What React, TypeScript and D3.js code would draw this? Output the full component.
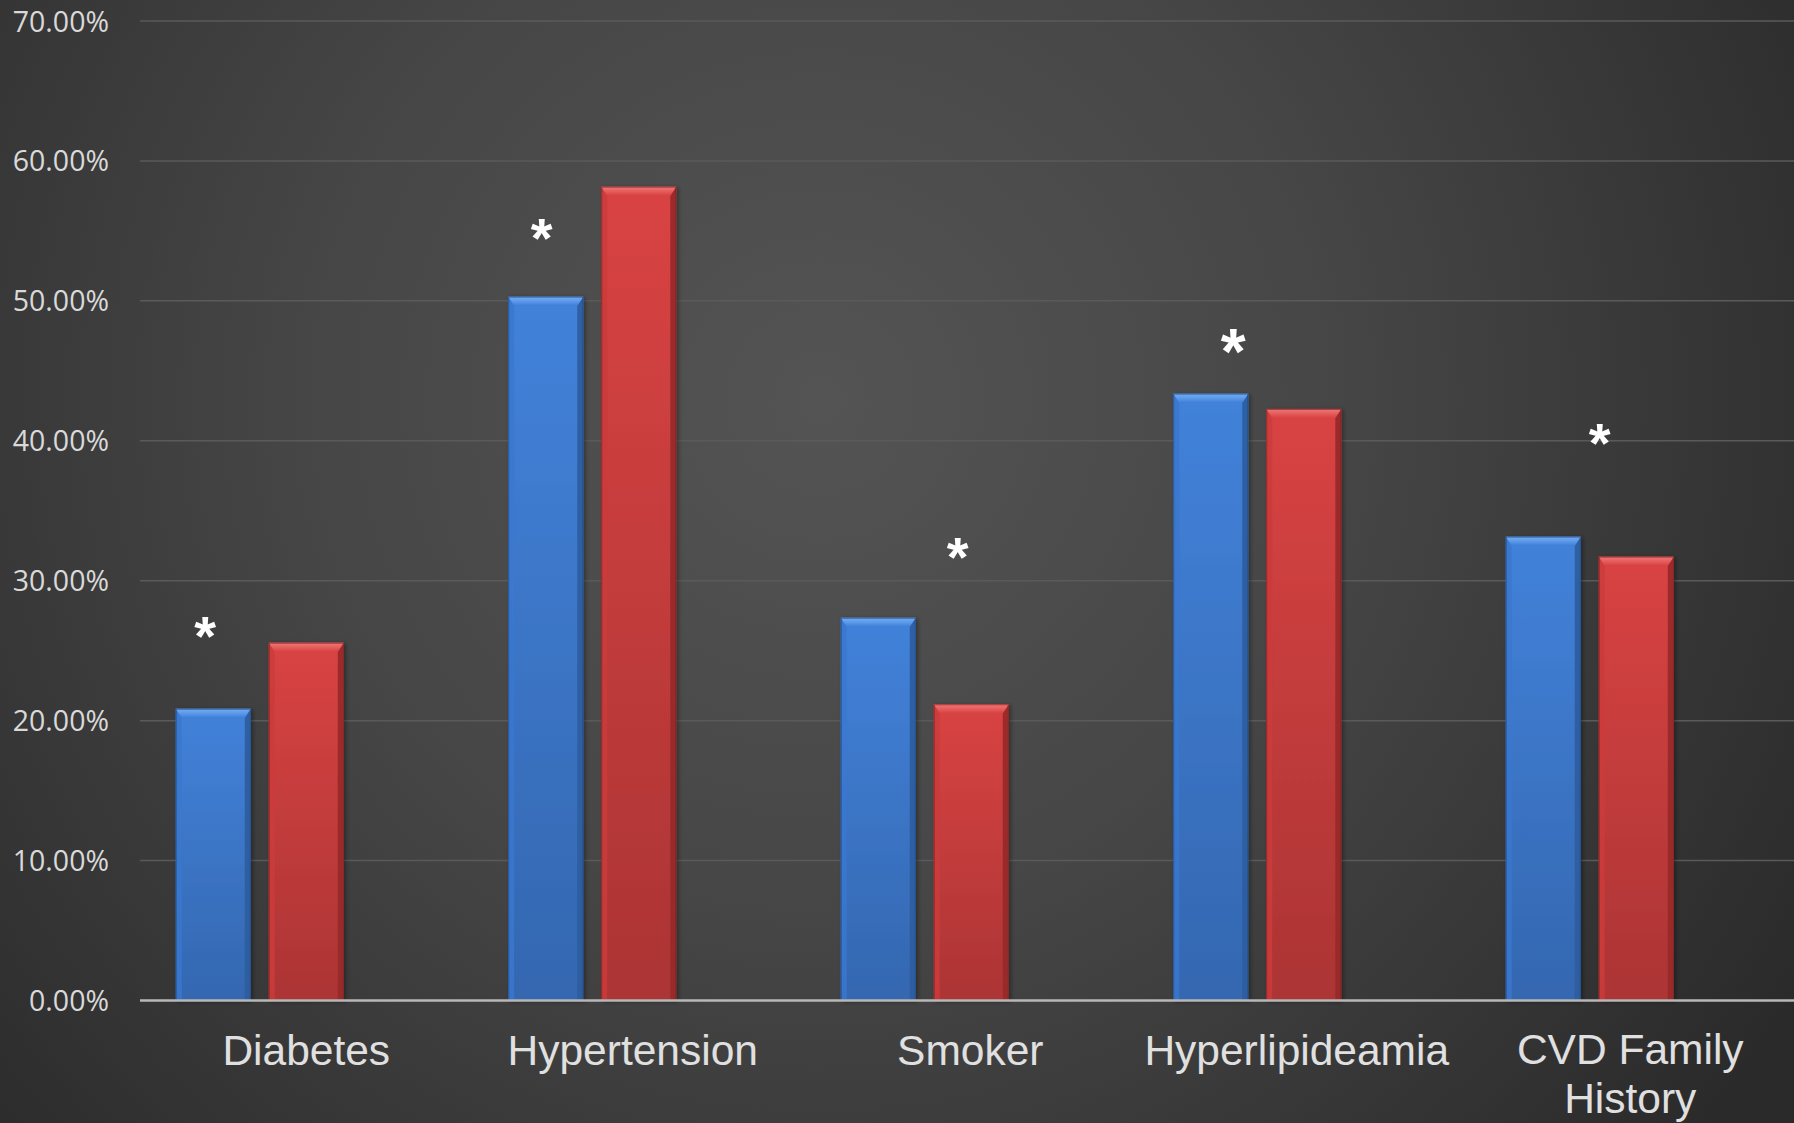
import React, { useEffect, useRef } from "react";
import * as d3 from "d3";

// Prevalence of cardiovascular risk factors in two groups
const categories = ["Diabetes", "Hypertension", "Smoker", "Hyperlipideamia", "CVD Family History"];
const labelLines = [["Diabetes"], ["Hypertension"], ["Smoker"], ["Hyperlipideamia"], ["CVD Family", "History"]];
const blueValues = [0.2085, 0.503, 0.2735, 0.4337, 0.3315];
const redValues = [0.2557, 0.5816, 0.2117, 0.4228, 0.3172];
const yTicks = [0, 0.1, 0.2, 0.3, 0.4, 0.5, 0.6, 0.7];

// Significance markers: height (as a percentage value) and horizontal place within each category band
const starLevels = [0.2662, 0.5507, 0.3227, 0.47, 0.4041];
const starBandFraction = [0.196, 0.208, 0.459, 0.288, 0.39];
const starSizes = [56, 56, 56, 64, 56];

// small nudge of the category captions relative to band centres
const labelNudge = [0, -6, -1, -7, -6];

const W = 1794;
const H = 1123;

type Palette = {
  top: string; bevelLight: string; bevelDark: string; faceTop: string; faceBottom: string;
  left: string; right: string; outline: string;
};

const bluePalette: Palette = {
  top: "#73adf2", bevelLight: "#5d9aea", bevelDark: "#3f7fd6",
  faceTop: "#4282da", faceBottom: "#3467b0",
  left: "#3a78cf", right: "#2c5c9f", outline: "#244d88",
};
const redPalette: Palette = {
  top: "#f07878", bevelLight: "#e65e5e", bevelDark: "#d84242",
  faceTop: "#d94343", faceBottom: "#ac3434",
  left: "#cb3b3b", right: "#962a2a", outline: "#7e2222",
};

export default function App() {
  const ref = useRef<SVGSVGElement | null>(null);

  useEffect(() => {
    const svg = d3.select(ref.current);
    svg.selectAll("*").remove();

    const defs = svg.append("defs");
    const bg = defs.append("radialGradient")
      .attr("id", "bg")
      .attr("gradientUnits", "userSpaceOnUse")
      .attr("cx", 820).attr("cy", 400).attr("r", 1150);
    bg.append("stop").attr("offset", 0).attr("stop-color", "#545454");
    bg.append("stop").attr("offset", 0.45).attr("stop-color", "#464646");
    bg.append("stop").attr("offset", 1).attr("stop-color", "#2a2a2a");

    const makeFace = (id: string, p: Palette) => {
      const g = defs.append("linearGradient").attr("id", id)
        .attr("x1", 0).attr("y1", 0).attr("x2", 0).attr("y2", 1);
      g.append("stop").attr("offset", 0).attr("stop-color", p.faceTop);
      g.append("stop").attr("offset", 1).attr("stop-color", p.faceBottom);
      const t = defs.append("linearGradient").attr("id", id + "-top")
        .attr("x1", 0).attr("y1", 0).attr("x2", 0).attr("y2", 1);
      t.append("stop").attr("offset", 0).attr("stop-color", p.top);
      t.append("stop").attr("offset", 0.5).attr("stop-color", p.bevelLight);
      t.append("stop").attr("offset", 1).attr("stop-color", p.bevelDark);
    };
    makeFace("blueFace", bluePalette);
    makeFace("redFace", redPalette);

    const sh = defs.append("filter").attr("id", "shadow")
      .attr("x", "-10%").attr("y", "-5%").attr("width", "130%").attr("height", "115%");
    sh.append("feDropShadow").attr("dx", 2).attr("dy", 1).attr("stdDeviation", 2)
      .attr("flood-color", "#000").attr("flood-opacity", 0.35);

    svg.append("rect").attr("width", W).attr("height", H).attr("fill", "url(#bg)");

    const plotLeft = 140;
    const band = 332.5;
    const x0 = d3.scaleBand<string>()
      .domain(categories)
      .range([plotLeft, plotLeft + band * categories.length])
      .padding(0);
    const groupW = 261;
    const x1 = d3.scaleBand<string>()
      .domain(["blue", "red", "spare"])
      .range([(x0.bandwidth() - groupW) / 2, (x0.bandwidth() + groupW) / 2])
      .paddingInner(18 / 93)
      .paddingOuter(0);

    const y = d3.scaleLinear().domain([0, 0.7]).range([1000.5, 21]);

    // gridlines
    svg.append("g").selectAll("line")
      .data(yTicks.filter((t) => t > 0))
      .join("line")
      .attr("x1", plotLeft).attr("x2", W)
      .attr("y1", (d) => y(d)).attr("y2", (d) => y(d))
      .attr("stroke", "#5a5a5a").attr("stroke-width", 1.5);

    // y tick labels
    svg.append("g").selectAll("text")
      .data(yTicks)
      .join("text")
      .attr("x", 109)
      .attr("y", (d) => y(d) + 10.5)
      .attr("text-anchor", "end")
      .attr("font-family", "'Open Sans', sans-serif")
      .attr("font-size", 28.5)
      .attr("fill", "#d9d9d9")
      .text((d) => d3.format(".2%")(d));

    const drawBar = (g: any, x: number, w: number, v: number, fillId: string, p: Palette) => {
      const yt = y(v);
      const yb = y(0);
      const b = 6;
      const bt = 9;
      const grp = g.append("g").attr("filter", "url(#shadow)");
      grp.append("rect").attr("x", x).attr("y", yt).attr("width", w).attr("height", yb - yt)
        .attr("fill", `url(#${fillId})`);
      grp.append("polygon")
        .attr("points", [[x, yt], [x + b, yt + bt], [x + b, yb], [x, yb]].map((q) => q.join(",")).join(" "))
        .attr("fill", p.left).attr("opacity", 0.85);
      grp.append("polygon")
        .attr("points", [[x + w, yt], [x + w - b, yt + bt], [x + w - b, yb], [x + w, yb]].map((q) => q.join(",")).join(" "))
        .attr("fill", p.right).attr("opacity", 0.9);
      grp.append("polygon")
        .attr("points", [[x, yt], [x + w, yt], [x + w - b, yt + bt], [x + b, yt + bt]].map((q) => q.join(",")).join(" "))
        .attr("fill", `url(#${fillId}-top)`);
      grp.append("rect").attr("x", x + 0.5).attr("y", yt + 0.5).attr("width", w - 1).attr("height", yb - yt - 1)
        .attr("fill", "none").attr("stroke", p.outline).attr("stroke-width", 1).attr("opacity", 0.7);
    };

    const bars = svg.append("g");
    categories.forEach((c, i) => {
      const bx = x0(c)!;
      drawBar(bars, bx + x1("blue")!, x1.bandwidth(), blueValues[i], "blueFace", bluePalette);
      drawBar(bars, bx + x1("red")!, x1.bandwidth(), redValues[i], "redFace", redPalette);
    });

    // baseline axis
    svg.append("line")
      .attr("x1", plotLeft).attr("x2", W)
      .attr("y1", y(0)).attr("y2", y(0))
      .attr("stroke", "#b8b8b8").attr("stroke-width", 2.5);

    // category labels
    const lab = svg.append("g");
    categories.forEach((c, i) => {
      const cx = x0(c)! + x0.bandwidth() / 2 + labelNudge[i];
      const lines = labelLines[i];
      const startY = lines.length > 1 ? 1064 : 1065;
      lines.forEach((ln, k) => {
        lab.append("text")
          .attr("x", cx)
          .attr("y", startY + k * 49)
          .attr("text-anchor", "middle")
          .attr("font-family", "Liberation Sans, Arial, sans-serif")
          .attr("font-size", 42.5)
          .attr("fill", "#e0e0e0")
          .text(ln);
      });
    });

    // significance asterisks
    svg.append("g").selectAll("text")
      .data(categories)
      .join("text")
      .attr("x", (c, i) => x0(c)! + x0.bandwidth() * starBandFraction[i])
      .attr("y", (c, i) => y(starLevels[i]) + starSizes[i] * 0.48)
      .attr("text-anchor", "middle")
      .attr("font-family", "Liberation Sans, Arial, sans-serif")
      .attr("font-weight", "bold")
      .attr("font-size", (c, i) => starSizes[i])
      .attr("fill", "#ffffff")
      .text("*");
  }, []);

  return (
    <svg
      ref={ref}
      width={W}
      height={H}
      style={{ position: "absolute", left: 0, top: 0, display: "block" }}
    />
  );
}
